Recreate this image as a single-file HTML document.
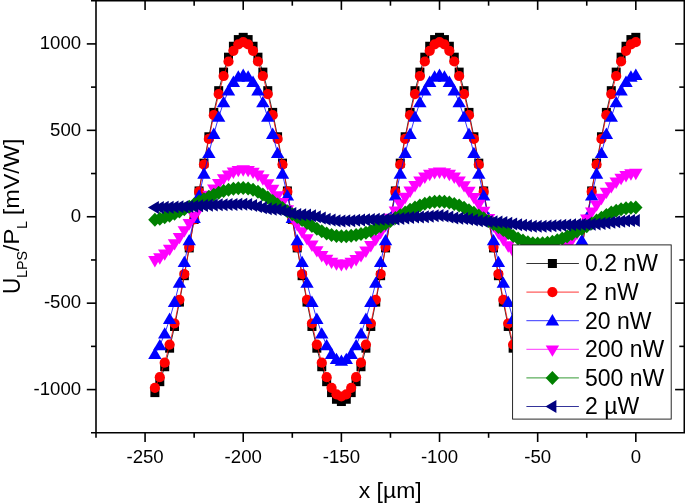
<!DOCTYPE html>
<html><head><meta charset="utf-8"><title>chart</title>
<style>html,body{margin:0;padding:0;background:#fff;}svg{display:block;will-change:transform;}text{font-family:"Liberation Sans",sans-serif;fill:#000;}</style></head><body>
<svg width="685" height="503" viewBox="0 0 685 503">
<rect width="685" height="503" fill="#fff"/>
<g>
<polyline fill="none" stroke="#000000" stroke-width="0.8" points="154.89,392.60 159.80,381.67 164.70,366.74 169.61,348.18 174.52,326.46 179.43,302.09 184.33,275.70 189.24,247.91 194.15,219.43 199.06,190.94 203.96,163.16 208.87,136.76 213.78,112.40 218.69,90.67 223.59,72.12 228.50,57.19 233.41,46.25 238.32,39.58 243.22,37.34 248.13,39.58 253.04,46.25 257.95,57.19 262.86,72.12 267.76,90.67 272.67,112.40 277.58,136.76 282.49,163.16 287.39,190.94 292.30,219.43 297.21,247.91 302.12,275.70 307.02,302.09 311.93,326.46 316.84,348.18 321.75,366.74 326.65,381.67 331.56,392.60 336.47,399.27 341.38,401.52 346.28,399.27 351.19,392.60 356.10,381.67 361.00,366.74 365.91,348.18 370.82,326.46 375.73,302.09 380.63,275.70 385.54,247.91 390.45,219.43 395.36,190.94 400.27,163.16 405.17,136.76 410.08,112.40 414.99,90.67 419.90,72.12 424.80,57.19 429.71,46.25 434.62,39.58 439.53,37.34 444.43,39.58 449.34,46.25 454.25,57.19 459.16,72.12 464.06,90.67 468.97,112.40 473.88,136.76 478.79,163.16 483.69,190.94 488.60,219.43 493.51,247.91 498.42,275.70 503.32,302.09 508.23,326.46 513.14,348.18 518.05,366.74 522.95,381.67 527.86,392.60 532.77,399.27 537.67,401.52 542.58,399.27 547.49,392.60 552.40,381.67 557.30,366.74 562.21,348.18 567.12,326.46 572.03,302.09 576.93,275.70 581.84,247.91 586.75,219.43 591.66,190.94 596.56,163.16 601.47,136.76 606.38,112.40 611.29,90.67 616.19,72.12 621.10,57.19 626.01,46.25 630.92,39.58 635.82,37.34"/>
<rect x="150.39" y="388.10" width="9" height="9" fill="#000000"/>
<rect x="155.30" y="377.17" width="9" height="9" fill="#000000"/>
<rect x="160.20" y="362.24" width="9" height="9" fill="#000000"/>
<rect x="165.11" y="343.68" width="9" height="9" fill="#000000"/>
<rect x="170.02" y="321.96" width="9" height="9" fill="#000000"/>
<rect x="174.93" y="297.59" width="9" height="9" fill="#000000"/>
<rect x="179.83" y="271.20" width="9" height="9" fill="#000000"/>
<rect x="184.74" y="243.41" width="9" height="9" fill="#000000"/>
<rect x="189.65" y="214.93" width="9" height="9" fill="#000000"/>
<rect x="194.56" y="186.44" width="9" height="9" fill="#000000"/>
<rect x="199.46" y="158.66" width="9" height="9" fill="#000000"/>
<rect x="204.37" y="132.26" width="9" height="9" fill="#000000"/>
<rect x="209.28" y="107.90" width="9" height="9" fill="#000000"/>
<rect x="214.19" y="86.17" width="9" height="9" fill="#000000"/>
<rect x="219.09" y="67.62" width="9" height="9" fill="#000000"/>
<rect x="224.00" y="52.69" width="9" height="9" fill="#000000"/>
<rect x="228.91" y="41.75" width="9" height="9" fill="#000000"/>
<rect x="233.82" y="35.08" width="9" height="9" fill="#000000"/>
<rect x="238.72" y="32.84" width="9" height="9" fill="#000000"/>
<rect x="243.63" y="35.08" width="9" height="9" fill="#000000"/>
<rect x="248.54" y="41.75" width="9" height="9" fill="#000000"/>
<rect x="253.45" y="52.69" width="9" height="9" fill="#000000"/>
<rect x="258.36" y="67.62" width="9" height="9" fill="#000000"/>
<rect x="263.26" y="86.17" width="9" height="9" fill="#000000"/>
<rect x="268.17" y="107.90" width="9" height="9" fill="#000000"/>
<rect x="273.08" y="132.26" width="9" height="9" fill="#000000"/>
<rect x="277.99" y="158.66" width="9" height="9" fill="#000000"/>
<rect x="282.89" y="186.44" width="9" height="9" fill="#000000"/>
<rect x="287.80" y="214.93" width="9" height="9" fill="#000000"/>
<rect x="292.71" y="243.41" width="9" height="9" fill="#000000"/>
<rect x="297.62" y="271.20" width="9" height="9" fill="#000000"/>
<rect x="302.52" y="297.59" width="9" height="9" fill="#000000"/>
<rect x="307.43" y="321.96" width="9" height="9" fill="#000000"/>
<rect x="312.34" y="343.68" width="9" height="9" fill="#000000"/>
<rect x="317.25" y="362.24" width="9" height="9" fill="#000000"/>
<rect x="322.15" y="377.17" width="9" height="9" fill="#000000"/>
<rect x="327.06" y="388.10" width="9" height="9" fill="#000000"/>
<rect x="331.97" y="394.77" width="9" height="9" fill="#000000"/>
<rect x="336.88" y="397.02" width="9" height="9" fill="#000000"/>
<rect x="341.78" y="394.77" width="9" height="9" fill="#000000"/>
<rect x="346.69" y="388.10" width="9" height="9" fill="#000000"/>
<rect x="351.60" y="377.17" width="9" height="9" fill="#000000"/>
<rect x="356.50" y="362.24" width="9" height="9" fill="#000000"/>
<rect x="361.41" y="343.68" width="9" height="9" fill="#000000"/>
<rect x="366.32" y="321.96" width="9" height="9" fill="#000000"/>
<rect x="371.23" y="297.59" width="9" height="9" fill="#000000"/>
<rect x="376.13" y="271.20" width="9" height="9" fill="#000000"/>
<rect x="381.04" y="243.41" width="9" height="9" fill="#000000"/>
<rect x="385.95" y="214.93" width="9" height="9" fill="#000000"/>
<rect x="390.86" y="186.44" width="9" height="9" fill="#000000"/>
<rect x="395.77" y="158.66" width="9" height="9" fill="#000000"/>
<rect x="400.67" y="132.26" width="9" height="9" fill="#000000"/>
<rect x="405.58" y="107.90" width="9" height="9" fill="#000000"/>
<rect x="410.49" y="86.17" width="9" height="9" fill="#000000"/>
<rect x="415.40" y="67.62" width="9" height="9" fill="#000000"/>
<rect x="420.30" y="52.69" width="9" height="9" fill="#000000"/>
<rect x="425.21" y="41.75" width="9" height="9" fill="#000000"/>
<rect x="430.12" y="35.08" width="9" height="9" fill="#000000"/>
<rect x="435.03" y="32.84" width="9" height="9" fill="#000000"/>
<rect x="439.93" y="35.08" width="9" height="9" fill="#000000"/>
<rect x="444.84" y="41.75" width="9" height="9" fill="#000000"/>
<rect x="449.75" y="52.69" width="9" height="9" fill="#000000"/>
<rect x="454.66" y="67.62" width="9" height="9" fill="#000000"/>
<rect x="459.56" y="86.17" width="9" height="9" fill="#000000"/>
<rect x="464.47" y="107.90" width="9" height="9" fill="#000000"/>
<rect x="469.38" y="132.26" width="9" height="9" fill="#000000"/>
<rect x="474.29" y="158.66" width="9" height="9" fill="#000000"/>
<rect x="479.19" y="186.44" width="9" height="9" fill="#000000"/>
<rect x="484.10" y="214.93" width="9" height="9" fill="#000000"/>
<rect x="489.01" y="243.41" width="9" height="9" fill="#000000"/>
<rect x="493.92" y="271.20" width="9" height="9" fill="#000000"/>
<rect x="498.82" y="297.59" width="9" height="9" fill="#000000"/>
<rect x="503.73" y="321.96" width="9" height="9" fill="#000000"/>
<rect x="508.64" y="343.68" width="9" height="9" fill="#000000"/>
<rect x="513.55" y="362.24" width="9" height="9" fill="#000000"/>
<rect x="518.45" y="377.17" width="9" height="9" fill="#000000"/>
<rect x="523.36" y="388.10" width="9" height="9" fill="#000000"/>
<rect x="528.27" y="394.77" width="9" height="9" fill="#000000"/>
<rect x="533.17" y="397.02" width="9" height="9" fill="#000000"/>
<rect x="538.08" y="394.77" width="9" height="9" fill="#000000"/>
<rect x="542.99" y="388.10" width="9" height="9" fill="#000000"/>
<rect x="547.90" y="377.17" width="9" height="9" fill="#000000"/>
<rect x="552.80" y="362.24" width="9" height="9" fill="#000000"/>
<rect x="557.71" y="343.68" width="9" height="9" fill="#000000"/>
<rect x="562.62" y="321.96" width="9" height="9" fill="#000000"/>
<rect x="567.53" y="297.59" width="9" height="9" fill="#000000"/>
<rect x="572.43" y="271.20" width="9" height="9" fill="#000000"/>
<rect x="577.34" y="243.41" width="9" height="9" fill="#000000"/>
<rect x="582.25" y="214.93" width="9" height="9" fill="#000000"/>
<rect x="587.16" y="186.44" width="9" height="9" fill="#000000"/>
<rect x="592.06" y="158.66" width="9" height="9" fill="#000000"/>
<rect x="596.97" y="132.26" width="9" height="9" fill="#000000"/>
<rect x="601.88" y="107.90" width="9" height="9" fill="#000000"/>
<rect x="606.79" y="86.17" width="9" height="9" fill="#000000"/>
<rect x="611.69" y="67.62" width="9" height="9" fill="#000000"/>
<rect x="616.60" y="52.69" width="9" height="9" fill="#000000"/>
<rect x="621.51" y="41.75" width="9" height="9" fill="#000000"/>
<rect x="626.42" y="35.08" width="9" height="9" fill="#000000"/>
<rect x="631.32" y="32.84" width="9" height="9" fill="#000000"/>
</g>
<g>
<polyline fill="none" stroke="#ff0000" stroke-width="0.8" points="154.89,387.83 159.80,377.19 164.70,362.67 169.61,344.61 174.52,323.48 179.43,299.77 184.33,274.09 189.24,247.06 194.15,219.34 199.06,191.63 203.96,164.60 208.87,138.91 213.78,115.21 218.69,94.07 223.59,76.02 228.50,61.49 233.41,50.85 238.32,44.36 243.22,42.18 248.13,44.36 253.04,50.85 257.95,61.49 262.86,76.02 267.76,94.07 272.67,115.21 277.58,138.91 282.49,164.60 287.39,191.63 292.30,219.34 297.21,247.06 302.12,274.09 307.02,299.77 311.93,323.48 316.84,344.61 321.75,362.67 326.65,377.19 331.56,387.83 336.47,394.32 341.38,396.50 346.28,394.32 351.19,387.83 356.10,377.19 361.00,362.67 365.91,344.61 370.82,323.48 375.73,299.77 380.63,274.09 385.54,247.06 390.45,219.34 395.36,191.63 400.27,164.60 405.17,138.91 410.08,115.21 414.99,94.07 419.90,76.02 424.80,61.49 429.71,50.85 434.62,44.36 439.53,42.18 444.43,44.36 449.34,50.85 454.25,61.49 459.16,76.02 464.06,94.07 468.97,115.21 473.88,138.91 478.79,164.60 483.69,191.63 488.60,219.34 493.51,247.06 498.42,274.09 503.32,299.77 508.23,323.48 513.14,344.61 518.05,362.67 522.95,377.19 527.86,387.83 532.77,394.32 537.67,396.50 542.58,394.32 547.49,387.83 552.40,377.19 557.30,362.67 562.21,344.61 567.12,323.48 572.03,299.77 576.93,274.09 581.84,247.06 586.75,219.34 591.66,191.63 596.56,164.60 601.47,138.91 606.38,115.21 611.29,94.07 616.19,76.02 621.10,61.49 626.01,50.85 630.92,44.36 635.82,42.18"/>
<circle cx="154.89" cy="387.83" r="5.1" fill="#ff0000"/>
<circle cx="159.80" cy="377.19" r="5.1" fill="#ff0000"/>
<circle cx="164.70" cy="362.67" r="5.1" fill="#ff0000"/>
<circle cx="169.61" cy="344.61" r="5.1" fill="#ff0000"/>
<circle cx="174.52" cy="323.48" r="5.1" fill="#ff0000"/>
<circle cx="179.43" cy="299.77" r="5.1" fill="#ff0000"/>
<circle cx="184.33" cy="274.09" r="5.1" fill="#ff0000"/>
<circle cx="189.24" cy="247.06" r="5.1" fill="#ff0000"/>
<circle cx="194.15" cy="219.34" r="5.1" fill="#ff0000"/>
<circle cx="199.06" cy="191.63" r="5.1" fill="#ff0000"/>
<circle cx="203.96" cy="164.60" r="5.1" fill="#ff0000"/>
<circle cx="208.87" cy="138.91" r="5.1" fill="#ff0000"/>
<circle cx="213.78" cy="115.21" r="5.1" fill="#ff0000"/>
<circle cx="218.69" cy="94.07" r="5.1" fill="#ff0000"/>
<circle cx="223.59" cy="76.02" r="5.1" fill="#ff0000"/>
<circle cx="228.50" cy="61.49" r="5.1" fill="#ff0000"/>
<circle cx="233.41" cy="50.85" r="5.1" fill="#ff0000"/>
<circle cx="238.32" cy="44.36" r="5.1" fill="#ff0000"/>
<circle cx="243.22" cy="42.18" r="5.1" fill="#ff0000"/>
<circle cx="248.13" cy="44.36" r="5.1" fill="#ff0000"/>
<circle cx="253.04" cy="50.85" r="5.1" fill="#ff0000"/>
<circle cx="257.95" cy="61.49" r="5.1" fill="#ff0000"/>
<circle cx="262.86" cy="76.02" r="5.1" fill="#ff0000"/>
<circle cx="267.76" cy="94.07" r="5.1" fill="#ff0000"/>
<circle cx="272.67" cy="115.21" r="5.1" fill="#ff0000"/>
<circle cx="277.58" cy="138.91" r="5.1" fill="#ff0000"/>
<circle cx="282.49" cy="164.60" r="5.1" fill="#ff0000"/>
<circle cx="287.39" cy="191.63" r="5.1" fill="#ff0000"/>
<circle cx="292.30" cy="219.34" r="5.1" fill="#ff0000"/>
<circle cx="297.21" cy="247.06" r="5.1" fill="#ff0000"/>
<circle cx="302.12" cy="274.09" r="5.1" fill="#ff0000"/>
<circle cx="307.02" cy="299.77" r="5.1" fill="#ff0000"/>
<circle cx="311.93" cy="323.48" r="5.1" fill="#ff0000"/>
<circle cx="316.84" cy="344.61" r="5.1" fill="#ff0000"/>
<circle cx="321.75" cy="362.67" r="5.1" fill="#ff0000"/>
<circle cx="326.65" cy="377.19" r="5.1" fill="#ff0000"/>
<circle cx="331.56" cy="387.83" r="5.1" fill="#ff0000"/>
<circle cx="336.47" cy="394.32" r="5.1" fill="#ff0000"/>
<circle cx="341.38" cy="396.50" r="5.1" fill="#ff0000"/>
<circle cx="346.28" cy="394.32" r="5.1" fill="#ff0000"/>
<circle cx="351.19" cy="387.83" r="5.1" fill="#ff0000"/>
<circle cx="356.10" cy="377.19" r="5.1" fill="#ff0000"/>
<circle cx="361.00" cy="362.67" r="5.1" fill="#ff0000"/>
<circle cx="365.91" cy="344.61" r="5.1" fill="#ff0000"/>
<circle cx="370.82" cy="323.48" r="5.1" fill="#ff0000"/>
<circle cx="375.73" cy="299.77" r="5.1" fill="#ff0000"/>
<circle cx="380.63" cy="274.09" r="5.1" fill="#ff0000"/>
<circle cx="385.54" cy="247.06" r="5.1" fill="#ff0000"/>
<circle cx="390.45" cy="219.34" r="5.1" fill="#ff0000"/>
<circle cx="395.36" cy="191.63" r="5.1" fill="#ff0000"/>
<circle cx="400.27" cy="164.60" r="5.1" fill="#ff0000"/>
<circle cx="405.17" cy="138.91" r="5.1" fill="#ff0000"/>
<circle cx="410.08" cy="115.21" r="5.1" fill="#ff0000"/>
<circle cx="414.99" cy="94.07" r="5.1" fill="#ff0000"/>
<circle cx="419.90" cy="76.02" r="5.1" fill="#ff0000"/>
<circle cx="424.80" cy="61.49" r="5.1" fill="#ff0000"/>
<circle cx="429.71" cy="50.85" r="5.1" fill="#ff0000"/>
<circle cx="434.62" cy="44.36" r="5.1" fill="#ff0000"/>
<circle cx="439.53" cy="42.18" r="5.1" fill="#ff0000"/>
<circle cx="444.43" cy="44.36" r="5.1" fill="#ff0000"/>
<circle cx="449.34" cy="50.85" r="5.1" fill="#ff0000"/>
<circle cx="454.25" cy="61.49" r="5.1" fill="#ff0000"/>
<circle cx="459.16" cy="76.02" r="5.1" fill="#ff0000"/>
<circle cx="464.06" cy="94.07" r="5.1" fill="#ff0000"/>
<circle cx="468.97" cy="115.21" r="5.1" fill="#ff0000"/>
<circle cx="473.88" cy="138.91" r="5.1" fill="#ff0000"/>
<circle cx="478.79" cy="164.60" r="5.1" fill="#ff0000"/>
<circle cx="483.69" cy="191.63" r="5.1" fill="#ff0000"/>
<circle cx="488.60" cy="219.34" r="5.1" fill="#ff0000"/>
<circle cx="493.51" cy="247.06" r="5.1" fill="#ff0000"/>
<circle cx="498.42" cy="274.09" r="5.1" fill="#ff0000"/>
<circle cx="503.32" cy="299.77" r="5.1" fill="#ff0000"/>
<circle cx="508.23" cy="323.48" r="5.1" fill="#ff0000"/>
<circle cx="513.14" cy="344.61" r="5.1" fill="#ff0000"/>
<circle cx="518.05" cy="362.67" r="5.1" fill="#ff0000"/>
<circle cx="522.95" cy="377.19" r="5.1" fill="#ff0000"/>
<circle cx="527.86" cy="387.83" r="5.1" fill="#ff0000"/>
<circle cx="532.77" cy="394.32" r="5.1" fill="#ff0000"/>
<circle cx="537.67" cy="396.50" r="5.1" fill="#ff0000"/>
<circle cx="542.58" cy="394.32" r="5.1" fill="#ff0000"/>
<circle cx="547.49" cy="387.83" r="5.1" fill="#ff0000"/>
<circle cx="552.40" cy="377.19" r="5.1" fill="#ff0000"/>
<circle cx="557.30" cy="362.67" r="5.1" fill="#ff0000"/>
<circle cx="562.21" cy="344.61" r="5.1" fill="#ff0000"/>
<circle cx="567.12" cy="323.48" r="5.1" fill="#ff0000"/>
<circle cx="572.03" cy="299.77" r="5.1" fill="#ff0000"/>
<circle cx="576.93" cy="274.09" r="5.1" fill="#ff0000"/>
<circle cx="581.84" cy="247.06" r="5.1" fill="#ff0000"/>
<circle cx="586.75" cy="219.34" r="5.1" fill="#ff0000"/>
<circle cx="591.66" cy="191.63" r="5.1" fill="#ff0000"/>
<circle cx="596.56" cy="164.60" r="5.1" fill="#ff0000"/>
<circle cx="601.47" cy="138.91" r="5.1" fill="#ff0000"/>
<circle cx="606.38" cy="115.21" r="5.1" fill="#ff0000"/>
<circle cx="611.29" cy="94.07" r="5.1" fill="#ff0000"/>
<circle cx="616.19" cy="76.02" r="5.1" fill="#ff0000"/>
<circle cx="621.10" cy="61.49" r="5.1" fill="#ff0000"/>
<circle cx="626.01" cy="50.85" r="5.1" fill="#ff0000"/>
<circle cx="630.92" cy="44.36" r="5.1" fill="#ff0000"/>
<circle cx="635.82" cy="42.18" r="5.1" fill="#ff0000"/>
</g>
<g>
<polyline fill="none" stroke="#0000ff" stroke-width="0.8" points="154.89,354.08 159.80,345.49 164.70,333.77 169.61,319.21 174.52,302.15 179.43,283.03 184.33,262.30 189.24,240.49 194.15,218.13 199.06,195.77 203.96,173.96 208.87,153.24 213.78,134.12 218.69,117.06 223.59,102.49 228.50,90.77 233.41,82.19 238.32,76.95 243.22,75.19 248.13,76.95 253.04,82.19 257.95,90.77 262.86,102.49 267.76,117.06 272.67,134.12 277.58,153.24 282.49,173.96 287.39,195.77 292.30,218.13 297.21,240.49 302.12,262.30 307.02,283.03 311.93,302.15 316.84,319.21 321.75,333.77 326.65,345.49 331.56,354.08 336.47,359.31 341.38,361.07 346.28,359.31 351.19,354.08 356.10,345.49 361.00,333.77 365.91,319.21 370.82,302.15 375.73,283.03 380.63,262.30 385.54,240.49 390.45,218.13 395.36,195.77 400.27,173.96 405.17,153.24 410.08,134.12 414.99,117.06 419.90,102.49 424.80,90.77 429.71,82.19 434.62,76.95 439.53,75.19 444.43,76.95 449.34,82.19 454.25,90.77 459.16,102.49 464.06,117.06 468.97,134.12 473.88,153.24 478.79,173.96 483.69,195.77 488.60,218.13 493.51,240.49 498.42,262.30 503.32,283.03 508.23,302.15 513.14,319.21 518.05,333.77 522.95,345.49 527.86,354.08 532.77,359.31 537.67,361.07 542.58,359.31 547.49,354.08 552.40,345.49 557.30,333.77 562.21,319.21 567.12,302.15 572.03,283.03 576.93,262.30 581.84,240.49 586.75,218.13 591.66,195.77 596.56,173.96 601.47,153.24 606.38,134.12 611.29,117.06 616.19,102.49 621.10,90.77 626.01,82.19 630.92,76.95 635.82,75.19"/>
<path d="M154.89 347.48L161.59 358.88L148.19 358.88Z" fill="#0000ff"/>
<path d="M159.80 338.89L166.50 350.29L153.10 350.29Z" fill="#0000ff"/>
<path d="M164.70 327.17L171.40 338.57L158.00 338.57Z" fill="#0000ff"/>
<path d="M169.61 312.61L176.31 324.01L162.91 324.01Z" fill="#0000ff"/>
<path d="M174.52 295.55L181.22 306.95L167.82 306.95Z" fill="#0000ff"/>
<path d="M179.43 276.43L186.13 287.83L172.73 287.83Z" fill="#0000ff"/>
<path d="M184.33 255.70L191.03 267.10L177.63 267.10Z" fill="#0000ff"/>
<path d="M189.24 233.89L195.94 245.29L182.54 245.29Z" fill="#0000ff"/>
<path d="M194.15 211.53L200.85 222.93L187.45 222.93Z" fill="#0000ff"/>
<path d="M199.06 189.17L205.76 200.57L192.36 200.57Z" fill="#0000ff"/>
<path d="M203.96 167.36L210.66 178.76L197.26 178.76Z" fill="#0000ff"/>
<path d="M208.87 146.64L215.57 158.04L202.17 158.04Z" fill="#0000ff"/>
<path d="M213.78 127.52L220.48 138.92L207.08 138.92Z" fill="#0000ff"/>
<path d="M218.69 110.46L225.39 121.86L211.99 121.86Z" fill="#0000ff"/>
<path d="M223.59 95.89L230.29 107.29L216.90 107.29Z" fill="#0000ff"/>
<path d="M228.50 84.17L235.20 95.57L221.80 95.57Z" fill="#0000ff"/>
<path d="M233.41 75.59L240.11 86.99L226.71 86.99Z" fill="#0000ff"/>
<path d="M238.32 70.35L245.02 81.75L231.62 81.75Z" fill="#0000ff"/>
<path d="M243.22 68.59L249.92 79.99L236.53 79.99Z" fill="#0000ff"/>
<path d="M248.13 70.35L254.83 81.75L241.43 81.75Z" fill="#0000ff"/>
<path d="M253.04 75.59L259.74 86.99L246.34 86.99Z" fill="#0000ff"/>
<path d="M257.95 84.17L264.65 95.57L251.25 95.57Z" fill="#0000ff"/>
<path d="M262.86 95.89L269.56 107.29L256.16 107.29Z" fill="#0000ff"/>
<path d="M267.76 110.46L274.46 121.86L261.06 121.86Z" fill="#0000ff"/>
<path d="M272.67 127.52L279.37 138.92L265.97 138.92Z" fill="#0000ff"/>
<path d="M277.58 146.64L284.28 158.04L270.88 158.04Z" fill="#0000ff"/>
<path d="M282.49 167.36L289.19 178.76L275.79 178.76Z" fill="#0000ff"/>
<path d="M287.39 189.17L294.09 200.57L280.69 200.57Z" fill="#0000ff"/>
<path d="M292.30 211.53L299.00 222.93L285.60 222.93Z" fill="#0000ff"/>
<path d="M297.21 233.89L303.91 245.29L290.51 245.29Z" fill="#0000ff"/>
<path d="M302.12 255.70L308.81 267.10L295.42 267.10Z" fill="#0000ff"/>
<path d="M307.02 276.43L313.72 287.83L300.32 287.83Z" fill="#0000ff"/>
<path d="M311.93 295.55L318.63 306.95L305.23 306.95Z" fill="#0000ff"/>
<path d="M316.84 312.61L323.54 324.01L310.14 324.01Z" fill="#0000ff"/>
<path d="M321.75 327.17L328.44 338.57L315.05 338.57Z" fill="#0000ff"/>
<path d="M326.65 338.89L333.35 350.29L319.95 350.29Z" fill="#0000ff"/>
<path d="M331.56 347.48L338.26 358.88L324.86 358.88Z" fill="#0000ff"/>
<path d="M336.47 352.71L343.17 364.11L329.77 364.11Z" fill="#0000ff"/>
<path d="M341.38 354.47L348.07 365.87L334.68 365.87Z" fill="#0000ff"/>
<path d="M346.28 352.71L352.98 364.11L339.58 364.11Z" fill="#0000ff"/>
<path d="M351.19 347.48L357.89 358.88L344.49 358.88Z" fill="#0000ff"/>
<path d="M356.10 338.89L362.80 350.29L349.40 350.29Z" fill="#0000ff"/>
<path d="M361.00 327.17L367.70 338.57L354.31 338.57Z" fill="#0000ff"/>
<path d="M365.91 312.61L372.61 324.01L359.21 324.01Z" fill="#0000ff"/>
<path d="M370.82 295.55L377.52 306.95L364.12 306.95Z" fill="#0000ff"/>
<path d="M375.73 276.43L382.43 287.83L369.03 287.83Z" fill="#0000ff"/>
<path d="M380.63 255.70L387.33 267.10L373.94 267.10Z" fill="#0000ff"/>
<path d="M385.54 233.89L392.24 245.29L378.84 245.29Z" fill="#0000ff"/>
<path d="M390.45 211.53L397.15 222.93L383.75 222.93Z" fill="#0000ff"/>
<path d="M395.36 189.17L402.06 200.57L388.66 200.57Z" fill="#0000ff"/>
<path d="M400.27 167.36L406.97 178.76L393.57 178.76Z" fill="#0000ff"/>
<path d="M405.17 146.64L411.87 158.04L398.47 158.04Z" fill="#0000ff"/>
<path d="M410.08 127.52L416.78 138.92L403.38 138.92Z" fill="#0000ff"/>
<path d="M414.99 110.46L421.69 121.86L408.29 121.86Z" fill="#0000ff"/>
<path d="M419.90 95.89L426.60 107.29L413.20 107.29Z" fill="#0000ff"/>
<path d="M424.80 84.17L431.50 95.57L418.10 95.57Z" fill="#0000ff"/>
<path d="M429.71 75.59L436.41 86.99L423.01 86.99Z" fill="#0000ff"/>
<path d="M434.62 70.35L441.32 81.75L427.92 81.75Z" fill="#0000ff"/>
<path d="M439.53 68.59L446.23 79.99L432.83 79.99Z" fill="#0000ff"/>
<path d="M444.43 70.35L451.13 81.75L437.73 81.75Z" fill="#0000ff"/>
<path d="M449.34 75.59L456.04 86.99L442.64 86.99Z" fill="#0000ff"/>
<path d="M454.25 84.17L460.95 95.57L447.55 95.57Z" fill="#0000ff"/>
<path d="M459.16 95.89L465.86 107.29L452.46 107.29Z" fill="#0000ff"/>
<path d="M464.06 110.46L470.76 121.86L457.36 121.86Z" fill="#0000ff"/>
<path d="M468.97 127.52L475.67 138.92L462.27 138.92Z" fill="#0000ff"/>
<path d="M473.88 146.64L480.58 158.04L467.18 158.04Z" fill="#0000ff"/>
<path d="M478.79 167.36L485.49 178.76L472.09 178.76Z" fill="#0000ff"/>
<path d="M483.69 189.17L490.39 200.57L476.99 200.57Z" fill="#0000ff"/>
<path d="M488.60 211.53L495.30 222.93L481.90 222.93Z" fill="#0000ff"/>
<path d="M493.51 233.89L500.21 245.29L486.81 245.29Z" fill="#0000ff"/>
<path d="M498.42 255.70L505.12 267.10L491.72 267.10Z" fill="#0000ff"/>
<path d="M503.32 276.43L510.02 287.83L496.62 287.83Z" fill="#0000ff"/>
<path d="M508.23 295.55L514.93 306.95L501.53 306.95Z" fill="#0000ff"/>
<path d="M513.14 312.61L519.84 324.01L506.44 324.01Z" fill="#0000ff"/>
<path d="M518.05 327.17L524.75 338.57L511.35 338.57Z" fill="#0000ff"/>
<path d="M522.95 338.89L529.65 350.29L516.25 350.29Z" fill="#0000ff"/>
<path d="M527.86 347.48L534.56 358.88L521.16 358.88Z" fill="#0000ff"/>
<path d="M532.77 352.71L539.47 364.11L526.07 364.11Z" fill="#0000ff"/>
<path d="M537.67 354.47L544.38 365.87L530.97 365.87Z" fill="#0000ff"/>
<path d="M542.58 352.71L549.28 364.11L535.88 364.11Z" fill="#0000ff"/>
<path d="M547.49 347.48L554.19 358.88L540.79 358.88Z" fill="#0000ff"/>
<path d="M552.40 338.89L559.10 350.29L545.70 350.29Z" fill="#0000ff"/>
<path d="M557.30 327.17L564.00 338.57L550.60 338.57Z" fill="#0000ff"/>
<path d="M562.21 312.61L568.91 324.01L555.51 324.01Z" fill="#0000ff"/>
<path d="M567.12 295.55L573.82 306.95L560.42 306.95Z" fill="#0000ff"/>
<path d="M572.03 276.43L578.73 287.83L565.33 287.83Z" fill="#0000ff"/>
<path d="M576.93 255.70L583.63 267.10L570.23 267.10Z" fill="#0000ff"/>
<path d="M581.84 233.89L588.54 245.29L575.14 245.29Z" fill="#0000ff"/>
<path d="M586.75 211.53L593.45 222.93L580.05 222.93Z" fill="#0000ff"/>
<path d="M591.66 189.17L598.36 200.57L584.96 200.57Z" fill="#0000ff"/>
<path d="M596.56 167.36L603.26 178.76L589.86 178.76Z" fill="#0000ff"/>
<path d="M601.47 146.64L608.17 158.04L594.77 158.04Z" fill="#0000ff"/>
<path d="M606.38 127.52L613.08 138.92L599.68 138.92Z" fill="#0000ff"/>
<path d="M611.29 110.46L617.99 121.86L604.59 121.86Z" fill="#0000ff"/>
<path d="M616.19 95.89L622.89 107.29L609.49 107.29Z" fill="#0000ff"/>
<path d="M621.10 84.17L627.80 95.57L614.40 95.57Z" fill="#0000ff"/>
<path d="M626.01 75.59L632.71 86.99L619.31 86.99Z" fill="#0000ff"/>
<path d="M630.92 70.35L637.62 81.75L624.22 81.75Z" fill="#0000ff"/>
<path d="M635.82 68.59L642.52 79.99L629.12 79.99Z" fill="#0000ff"/>
</g>
<g>
<polyline fill="none" stroke="#ff00ff" stroke-width="0.8" points="154.89,259.94 159.80,257.16 164.70,253.35 169.61,248.62 174.52,243.07 179.43,236.85 184.33,230.11 189.24,223.02 194.15,215.74 199.06,208.47 203.96,201.37 208.87,194.62 213.78,188.40 218.69,182.85 223.59,178.11 228.50,174.29 233.41,171.50 238.32,169.79 243.22,169.22 248.13,169.80 253.04,171.54 257.95,174.38 262.86,178.26 267.76,183.09 272.67,188.74 277.58,195.08 282.49,201.94 287.39,209.17 292.30,216.58 297.21,223.99 302.12,231.21 307.02,238.08 311.93,244.41 316.84,250.06 321.75,254.89 326.65,258.77 331.56,261.62 336.47,263.35 341.38,263.94 346.28,263.37 351.19,261.67 356.10,258.90 361.00,255.11 365.91,250.39 370.82,244.88 375.73,238.69 380.63,231.99 385.54,224.93 390.45,217.70 395.36,210.47 400.27,203.41 405.17,196.71 410.08,190.52 414.99,185.01 419.90,180.30 424.80,176.51 429.71,173.73 434.62,172.04 439.53,171.47 444.43,172.04 449.34,173.74 454.25,176.52 459.16,180.33 464.06,185.06 468.97,190.60 473.88,196.80 478.79,203.53 483.69,210.61 488.60,217.87 493.51,225.13 498.42,232.21 503.32,238.94 508.23,245.15 513.14,250.69 518.05,255.42 522.95,259.22 527.86,262.01 532.77,263.71 537.67,264.28 542.58,263.72 547.49,262.04 552.40,259.29 557.30,255.53 562.21,250.87 567.12,245.40 572.03,239.27 576.93,232.63 581.84,225.64 586.75,218.48 591.66,211.31 596.56,204.32 601.47,197.68 606.38,191.56 611.29,186.09 616.19,181.42 621.10,177.67 626.01,174.92 630.92,173.24 635.82,172.68"/>
<path d="M154.89 267.44L161.59 256.04L148.19 256.04Z" fill="#ff00ff"/>
<path d="M159.80 264.66L166.50 253.26L153.10 253.26Z" fill="#ff00ff"/>
<path d="M164.70 260.85L171.40 249.45L158.00 249.45Z" fill="#ff00ff"/>
<path d="M169.61 256.12L176.31 244.72L162.91 244.72Z" fill="#ff00ff"/>
<path d="M174.52 250.57L181.22 239.17L167.82 239.17Z" fill="#ff00ff"/>
<path d="M179.43 244.35L186.13 232.95L172.73 232.95Z" fill="#ff00ff"/>
<path d="M184.33 237.61L191.03 226.21L177.63 226.21Z" fill="#ff00ff"/>
<path d="M189.24 230.52L195.94 219.12L182.54 219.12Z" fill="#ff00ff"/>
<path d="M194.15 223.24L200.85 211.84L187.45 211.84Z" fill="#ff00ff"/>
<path d="M199.06 215.97L205.76 204.57L192.36 204.57Z" fill="#ff00ff"/>
<path d="M203.96 208.87L210.66 197.47L197.26 197.47Z" fill="#ff00ff"/>
<path d="M208.87 202.12L215.57 190.72L202.17 190.72Z" fill="#ff00ff"/>
<path d="M213.78 195.90L220.48 184.50L207.08 184.50Z" fill="#ff00ff"/>
<path d="M218.69 190.35L225.39 178.95L211.99 178.95Z" fill="#ff00ff"/>
<path d="M223.59 185.61L230.29 174.21L216.90 174.21Z" fill="#ff00ff"/>
<path d="M228.50 181.79L235.20 170.39L221.80 170.39Z" fill="#ff00ff"/>
<path d="M233.41 179.00L240.11 167.60L226.71 167.60Z" fill="#ff00ff"/>
<path d="M238.32 177.29L245.02 165.89L231.62 165.89Z" fill="#ff00ff"/>
<path d="M243.22 176.72L249.92 165.32L236.53 165.32Z" fill="#ff00ff"/>
<path d="M248.13 177.30L254.83 165.90L241.43 165.90Z" fill="#ff00ff"/>
<path d="M253.04 179.04L259.74 167.64L246.34 167.64Z" fill="#ff00ff"/>
<path d="M257.95 181.88L264.65 170.48L251.25 170.48Z" fill="#ff00ff"/>
<path d="M262.86 185.76L269.56 174.36L256.16 174.36Z" fill="#ff00ff"/>
<path d="M267.76 190.59L274.46 179.19L261.06 179.19Z" fill="#ff00ff"/>
<path d="M272.67 196.24L279.37 184.84L265.97 184.84Z" fill="#ff00ff"/>
<path d="M277.58 202.58L284.28 191.18L270.88 191.18Z" fill="#ff00ff"/>
<path d="M282.49 209.44L289.19 198.04L275.79 198.04Z" fill="#ff00ff"/>
<path d="M287.39 216.67L294.09 205.27L280.69 205.27Z" fill="#ff00ff"/>
<path d="M292.30 224.08L299.00 212.68L285.60 212.68Z" fill="#ff00ff"/>
<path d="M297.21 231.49L303.91 220.09L290.51 220.09Z" fill="#ff00ff"/>
<path d="M302.12 238.71L308.81 227.31L295.42 227.31Z" fill="#ff00ff"/>
<path d="M307.02 245.58L313.72 234.18L300.32 234.18Z" fill="#ff00ff"/>
<path d="M311.93 251.91L318.63 240.51L305.23 240.51Z" fill="#ff00ff"/>
<path d="M316.84 257.56L323.54 246.16L310.14 246.16Z" fill="#ff00ff"/>
<path d="M321.75 262.39L328.44 250.99L315.05 250.99Z" fill="#ff00ff"/>
<path d="M326.65 266.27L333.35 254.87L319.95 254.87Z" fill="#ff00ff"/>
<path d="M331.56 269.12L338.26 257.72L324.86 257.72Z" fill="#ff00ff"/>
<path d="M336.47 270.85L343.17 259.45L329.77 259.45Z" fill="#ff00ff"/>
<path d="M341.38 271.44L348.07 260.04L334.68 260.04Z" fill="#ff00ff"/>
<path d="M346.28 270.87L352.98 259.47L339.58 259.47Z" fill="#ff00ff"/>
<path d="M351.19 269.17L357.89 257.77L344.49 257.77Z" fill="#ff00ff"/>
<path d="M356.10 266.40L362.80 255.00L349.40 255.00Z" fill="#ff00ff"/>
<path d="M361.00 262.61L367.70 251.21L354.31 251.21Z" fill="#ff00ff"/>
<path d="M365.91 257.89L372.61 246.49L359.21 246.49Z" fill="#ff00ff"/>
<path d="M370.82 252.38L377.52 240.98L364.12 240.98Z" fill="#ff00ff"/>
<path d="M375.73 246.19L382.43 234.79L369.03 234.79Z" fill="#ff00ff"/>
<path d="M380.63 239.49L387.33 228.09L373.94 228.09Z" fill="#ff00ff"/>
<path d="M385.54 232.43L392.24 221.03L378.84 221.03Z" fill="#ff00ff"/>
<path d="M390.45 225.20L397.15 213.80L383.75 213.80Z" fill="#ff00ff"/>
<path d="M395.36 217.97L402.06 206.57L388.66 206.57Z" fill="#ff00ff"/>
<path d="M400.27 210.91L406.97 199.51L393.57 199.51Z" fill="#ff00ff"/>
<path d="M405.17 204.21L411.87 192.81L398.47 192.81Z" fill="#ff00ff"/>
<path d="M410.08 198.02L416.78 186.62L403.38 186.62Z" fill="#ff00ff"/>
<path d="M414.99 192.51L421.69 181.11L408.29 181.11Z" fill="#ff00ff"/>
<path d="M419.90 187.80L426.60 176.40L413.20 176.40Z" fill="#ff00ff"/>
<path d="M424.80 184.01L431.50 172.61L418.10 172.61Z" fill="#ff00ff"/>
<path d="M429.71 181.23L436.41 169.83L423.01 169.83Z" fill="#ff00ff"/>
<path d="M434.62 179.54L441.32 168.14L427.92 168.14Z" fill="#ff00ff"/>
<path d="M439.53 178.97L446.23 167.57L432.83 167.57Z" fill="#ff00ff"/>
<path d="M444.43 179.54L451.13 168.14L437.73 168.14Z" fill="#ff00ff"/>
<path d="M449.34 181.24L456.04 169.84L442.64 169.84Z" fill="#ff00ff"/>
<path d="M454.25 184.02L460.95 172.62L447.55 172.62Z" fill="#ff00ff"/>
<path d="M459.16 187.83L465.86 176.43L452.46 176.43Z" fill="#ff00ff"/>
<path d="M464.06 192.56L470.76 181.16L457.36 181.16Z" fill="#ff00ff"/>
<path d="M468.97 198.10L475.67 186.70L462.27 186.70Z" fill="#ff00ff"/>
<path d="M473.88 204.30L480.58 192.90L467.18 192.90Z" fill="#ff00ff"/>
<path d="M478.79 211.03L485.49 199.63L472.09 199.63Z" fill="#ff00ff"/>
<path d="M483.69 218.11L490.39 206.71L476.99 206.71Z" fill="#ff00ff"/>
<path d="M488.60 225.37L495.30 213.97L481.90 213.97Z" fill="#ff00ff"/>
<path d="M493.51 232.63L500.21 221.23L486.81 221.23Z" fill="#ff00ff"/>
<path d="M498.42 239.71L505.12 228.31L491.72 228.31Z" fill="#ff00ff"/>
<path d="M503.32 246.44L510.02 235.04L496.62 235.04Z" fill="#ff00ff"/>
<path d="M508.23 252.65L514.93 241.25L501.53 241.25Z" fill="#ff00ff"/>
<path d="M513.14 258.19L519.84 246.79L506.44 246.79Z" fill="#ff00ff"/>
<path d="M518.05 262.92L524.75 251.52L511.35 251.52Z" fill="#ff00ff"/>
<path d="M522.95 266.72L529.65 255.32L516.25 255.32Z" fill="#ff00ff"/>
<path d="M527.86 269.51L534.56 258.11L521.16 258.11Z" fill="#ff00ff"/>
<path d="M532.77 271.21L539.47 259.81L526.07 259.81Z" fill="#ff00ff"/>
<path d="M537.67 271.78L544.38 260.38L530.97 260.38Z" fill="#ff00ff"/>
<path d="M542.58 271.22L549.28 259.82L535.88 259.82Z" fill="#ff00ff"/>
<path d="M547.49 269.54L554.19 258.14L540.79 258.14Z" fill="#ff00ff"/>
<path d="M552.40 266.79L559.10 255.39L545.70 255.39Z" fill="#ff00ff"/>
<path d="M557.30 263.03L564.00 251.63L550.60 251.63Z" fill="#ff00ff"/>
<path d="M562.21 258.37L568.91 246.97L555.51 246.97Z" fill="#ff00ff"/>
<path d="M567.12 252.90L573.82 241.50L560.42 241.50Z" fill="#ff00ff"/>
<path d="M572.03 246.77L578.73 235.37L565.33 235.37Z" fill="#ff00ff"/>
<path d="M576.93 240.13L583.63 228.73L570.23 228.73Z" fill="#ff00ff"/>
<path d="M581.84 233.14L588.54 221.74L575.14 221.74Z" fill="#ff00ff"/>
<path d="M586.75 225.98L593.45 214.58L580.05 214.58Z" fill="#ff00ff"/>
<path d="M591.66 218.81L598.36 207.41L584.96 207.41Z" fill="#ff00ff"/>
<path d="M596.56 211.82L603.26 200.42L589.86 200.42Z" fill="#ff00ff"/>
<path d="M601.47 205.18L608.17 193.78L594.77 193.78Z" fill="#ff00ff"/>
<path d="M606.38 199.06L613.08 187.66L599.68 187.66Z" fill="#ff00ff"/>
<path d="M611.29 193.59L617.99 182.19L604.59 182.19Z" fill="#ff00ff"/>
<path d="M616.19 188.92L622.89 177.52L609.49 177.52Z" fill="#ff00ff"/>
<path d="M621.10 185.17L627.80 173.77L614.40 173.77Z" fill="#ff00ff"/>
<path d="M626.01 182.42L632.71 171.02L619.31 171.02Z" fill="#ff00ff"/>
<path d="M630.92 180.74L637.62 169.34L624.22 169.34Z" fill="#ff00ff"/>
<path d="M635.82 180.18L642.52 168.78L629.12 168.78Z" fill="#ff00ff"/>
</g>
<g>
<polyline fill="none" stroke="#008000" stroke-width="0.8" points="154.89,219.71 159.80,218.68 164.70,217.31 169.61,215.63 174.52,213.67 179.43,211.49 184.33,209.13 189.24,206.65 194.15,204.13 199.06,201.60 203.96,199.14 208.87,196.81 213.78,194.66 218.69,192.75 223.59,191.12 228.50,189.80 233.41,188.84 238.32,188.26 243.22,188.06 248.13,188.49 253.04,189.75 257.95,191.76 262.86,194.40 267.76,197.53 272.67,200.95 277.58,204.49 282.49,207.97 287.39,211.24 292.30,214.16 297.21,216.98 302.12,219.96 307.02,223.00 311.93,225.99 316.84,228.80 321.75,231.31 326.65,233.40 331.56,234.97 336.47,235.95 341.38,236.28 346.28,236.15 351.19,235.74 356.10,235.04 361.00,234.02 365.91,232.65 370.82,230.93 375.73,228.84 380.63,226.41 385.54,223.74 390.45,220.92 395.36,218.04 400.27,215.17 405.17,212.39 410.08,209.79 414.99,207.44 419.90,205.40 424.80,203.75 429.71,202.54 434.62,201.79 439.53,201.54 444.43,201.81 449.34,202.60 454.25,203.89 459.16,205.62 464.06,207.73 468.97,210.14 473.88,212.76 478.79,215.52 483.69,218.31 488.60,221.07 493.51,223.90 498.42,226.91 503.32,229.99 508.23,233.02 513.14,235.89 518.05,238.45 522.95,240.59 527.86,242.20 532.77,243.20 537.67,243.54 542.58,243.33 547.49,242.69 552.40,241.66 557.30,240.24 562.21,238.48 567.12,236.42 572.03,234.10 576.93,231.60 581.84,228.96 586.75,226.26 591.66,223.45 596.56,220.53 601.47,217.63 606.38,214.93 611.29,212.58 616.19,210.72 621.10,209.30 626.01,208.26 630.92,207.63 635.82,207.42"/>
<path d="M154.89 212.71L161.59 219.71L154.89 226.71L148.19 219.71Z" fill="#008000"/>
<path d="M159.80 211.68L166.50 218.68L159.80 225.68L153.10 218.68Z" fill="#008000"/>
<path d="M164.70 210.31L171.40 217.31L164.70 224.31L158.00 217.31Z" fill="#008000"/>
<path d="M169.61 208.63L176.31 215.63L169.61 222.63L162.91 215.63Z" fill="#008000"/>
<path d="M174.52 206.67L181.22 213.67L174.52 220.67L167.82 213.67Z" fill="#008000"/>
<path d="M179.43 204.49L186.13 211.49L179.43 218.49L172.73 211.49Z" fill="#008000"/>
<path d="M184.33 202.13L191.03 209.13L184.33 216.13L177.63 209.13Z" fill="#008000"/>
<path d="M189.24 199.65L195.94 206.65L189.24 213.65L182.54 206.65Z" fill="#008000"/>
<path d="M194.15 197.13L200.85 204.13L194.15 211.13L187.45 204.13Z" fill="#008000"/>
<path d="M199.06 194.60L205.76 201.60L199.06 208.60L192.36 201.60Z" fill="#008000"/>
<path d="M203.96 192.14L210.66 199.14L203.96 206.14L197.26 199.14Z" fill="#008000"/>
<path d="M208.87 189.81L215.57 196.81L208.87 203.81L202.17 196.81Z" fill="#008000"/>
<path d="M213.78 187.66L220.48 194.66L213.78 201.66L207.08 194.66Z" fill="#008000"/>
<path d="M218.69 185.75L225.39 192.75L218.69 199.75L211.99 192.75Z" fill="#008000"/>
<path d="M223.59 184.12L230.29 191.12L223.59 198.12L216.90 191.12Z" fill="#008000"/>
<path d="M228.50 182.80L235.20 189.80L228.50 196.80L221.80 189.80Z" fill="#008000"/>
<path d="M233.41 181.84L240.11 188.84L233.41 195.84L226.71 188.84Z" fill="#008000"/>
<path d="M238.32 181.26L245.02 188.26L238.32 195.26L231.62 188.26Z" fill="#008000"/>
<path d="M243.22 181.06L249.92 188.06L243.22 195.06L236.53 188.06Z" fill="#008000"/>
<path d="M248.13 181.49L254.83 188.49L248.13 195.49L241.43 188.49Z" fill="#008000"/>
<path d="M253.04 182.75L259.74 189.75L253.04 196.75L246.34 189.75Z" fill="#008000"/>
<path d="M257.95 184.76L264.65 191.76L257.95 198.76L251.25 191.76Z" fill="#008000"/>
<path d="M262.86 187.40L269.56 194.40L262.86 201.40L256.16 194.40Z" fill="#008000"/>
<path d="M267.76 190.53L274.46 197.53L267.76 204.53L261.06 197.53Z" fill="#008000"/>
<path d="M272.67 193.95L279.37 200.95L272.67 207.95L265.97 200.95Z" fill="#008000"/>
<path d="M277.58 197.49L284.28 204.49L277.58 211.49L270.88 204.49Z" fill="#008000"/>
<path d="M282.49 200.97L289.19 207.97L282.49 214.97L275.79 207.97Z" fill="#008000"/>
<path d="M287.39 204.24L294.09 211.24L287.39 218.24L280.69 211.24Z" fill="#008000"/>
<path d="M292.30 207.16L299.00 214.16L292.30 221.16L285.60 214.16Z" fill="#008000"/>
<path d="M297.21 209.98L303.91 216.98L297.21 223.98L290.51 216.98Z" fill="#008000"/>
<path d="M302.12 212.96L308.81 219.96L302.12 226.96L295.42 219.96Z" fill="#008000"/>
<path d="M307.02 216.00L313.72 223.00L307.02 230.00L300.32 223.00Z" fill="#008000"/>
<path d="M311.93 218.99L318.63 225.99L311.93 232.99L305.23 225.99Z" fill="#008000"/>
<path d="M316.84 221.80L323.54 228.80L316.84 235.80L310.14 228.80Z" fill="#008000"/>
<path d="M321.75 224.31L328.44 231.31L321.75 238.31L315.05 231.31Z" fill="#008000"/>
<path d="M326.65 226.40L333.35 233.40L326.65 240.40L319.95 233.40Z" fill="#008000"/>
<path d="M331.56 227.97L338.26 234.97L331.56 241.97L324.86 234.97Z" fill="#008000"/>
<path d="M336.47 228.95L343.17 235.95L336.47 242.95L329.77 235.95Z" fill="#008000"/>
<path d="M341.38 229.28L348.07 236.28L341.38 243.28L334.68 236.28Z" fill="#008000"/>
<path d="M346.28 229.15L352.98 236.15L346.28 243.15L339.58 236.15Z" fill="#008000"/>
<path d="M351.19 228.74L357.89 235.74L351.19 242.74L344.49 235.74Z" fill="#008000"/>
<path d="M356.10 228.04L362.80 235.04L356.10 242.04L349.40 235.04Z" fill="#008000"/>
<path d="M361.00 227.02L367.70 234.02L361.00 241.02L354.31 234.02Z" fill="#008000"/>
<path d="M365.91 225.65L372.61 232.65L365.91 239.65L359.21 232.65Z" fill="#008000"/>
<path d="M370.82 223.93L377.52 230.93L370.82 237.93L364.12 230.93Z" fill="#008000"/>
<path d="M375.73 221.84L382.43 228.84L375.73 235.84L369.03 228.84Z" fill="#008000"/>
<path d="M380.63 219.41L387.33 226.41L380.63 233.41L373.94 226.41Z" fill="#008000"/>
<path d="M385.54 216.74L392.24 223.74L385.54 230.74L378.84 223.74Z" fill="#008000"/>
<path d="M390.45 213.92L397.15 220.92L390.45 227.92L383.75 220.92Z" fill="#008000"/>
<path d="M395.36 211.04L402.06 218.04L395.36 225.04L388.66 218.04Z" fill="#008000"/>
<path d="M400.27 208.17L406.97 215.17L400.27 222.17L393.57 215.17Z" fill="#008000"/>
<path d="M405.17 205.39L411.87 212.39L405.17 219.39L398.47 212.39Z" fill="#008000"/>
<path d="M410.08 202.79L416.78 209.79L410.08 216.79L403.38 209.79Z" fill="#008000"/>
<path d="M414.99 200.44L421.69 207.44L414.99 214.44L408.29 207.44Z" fill="#008000"/>
<path d="M419.90 198.40L426.60 205.40L419.90 212.40L413.20 205.40Z" fill="#008000"/>
<path d="M424.80 196.75L431.50 203.75L424.80 210.75L418.10 203.75Z" fill="#008000"/>
<path d="M429.71 195.54L436.41 202.54L429.71 209.54L423.01 202.54Z" fill="#008000"/>
<path d="M434.62 194.79L441.32 201.79L434.62 208.79L427.92 201.79Z" fill="#008000"/>
<path d="M439.53 194.54L446.23 201.54L439.53 208.54L432.83 201.54Z" fill="#008000"/>
<path d="M444.43 194.81L451.13 201.81L444.43 208.81L437.73 201.81Z" fill="#008000"/>
<path d="M449.34 195.60L456.04 202.60L449.34 209.60L442.64 202.60Z" fill="#008000"/>
<path d="M454.25 196.89L460.95 203.89L454.25 210.89L447.55 203.89Z" fill="#008000"/>
<path d="M459.16 198.62L465.86 205.62L459.16 212.62L452.46 205.62Z" fill="#008000"/>
<path d="M464.06 200.73L470.76 207.73L464.06 214.73L457.36 207.73Z" fill="#008000"/>
<path d="M468.97 203.14L475.67 210.14L468.97 217.14L462.27 210.14Z" fill="#008000"/>
<path d="M473.88 205.76L480.58 212.76L473.88 219.76L467.18 212.76Z" fill="#008000"/>
<path d="M478.79 208.52L485.49 215.52L478.79 222.52L472.09 215.52Z" fill="#008000"/>
<path d="M483.69 211.31L490.39 218.31L483.69 225.31L476.99 218.31Z" fill="#008000"/>
<path d="M488.60 214.07L495.30 221.07L488.60 228.07L481.90 221.07Z" fill="#008000"/>
<path d="M493.51 216.90L500.21 223.90L493.51 230.90L486.81 223.90Z" fill="#008000"/>
<path d="M498.42 219.91L505.12 226.91L498.42 233.91L491.72 226.91Z" fill="#008000"/>
<path d="M503.32 222.99L510.02 229.99L503.32 236.99L496.62 229.99Z" fill="#008000"/>
<path d="M508.23 226.02L514.93 233.02L508.23 240.02L501.53 233.02Z" fill="#008000"/>
<path d="M513.14 228.89L519.84 235.89L513.14 242.89L506.44 235.89Z" fill="#008000"/>
<path d="M518.05 231.45L524.75 238.45L518.05 245.45L511.35 238.45Z" fill="#008000"/>
<path d="M522.95 233.59L529.65 240.59L522.95 247.59L516.25 240.59Z" fill="#008000"/>
<path d="M527.86 235.20L534.56 242.20L527.86 249.20L521.16 242.20Z" fill="#008000"/>
<path d="M532.77 236.20L539.47 243.20L532.77 250.20L526.07 243.20Z" fill="#008000"/>
<path d="M537.67 236.54L544.38 243.54L537.67 250.54L530.97 243.54Z" fill="#008000"/>
<path d="M542.58 236.33L549.28 243.33L542.58 250.33L535.88 243.33Z" fill="#008000"/>
<path d="M547.49 235.69L554.19 242.69L547.49 249.69L540.79 242.69Z" fill="#008000"/>
<path d="M552.40 234.66L559.10 241.66L552.40 248.66L545.70 241.66Z" fill="#008000"/>
<path d="M557.30 233.24L564.00 240.24L557.30 247.24L550.60 240.24Z" fill="#008000"/>
<path d="M562.21 231.48L568.91 238.48L562.21 245.48L555.51 238.48Z" fill="#008000"/>
<path d="M567.12 229.42L573.82 236.42L567.12 243.42L560.42 236.42Z" fill="#008000"/>
<path d="M572.03 227.10L578.73 234.10L572.03 241.10L565.33 234.10Z" fill="#008000"/>
<path d="M576.93 224.60L583.63 231.60L576.93 238.60L570.23 231.60Z" fill="#008000"/>
<path d="M581.84 221.96L588.54 228.96L581.84 235.96L575.14 228.96Z" fill="#008000"/>
<path d="M586.75 219.26L593.45 226.26L586.75 233.26L580.05 226.26Z" fill="#008000"/>
<path d="M591.66 216.45L598.36 223.45L591.66 230.45L584.96 223.45Z" fill="#008000"/>
<path d="M596.56 213.53L603.26 220.53L596.56 227.53L589.86 220.53Z" fill="#008000"/>
<path d="M601.47 210.63L608.17 217.63L601.47 224.63L594.77 217.63Z" fill="#008000"/>
<path d="M606.38 207.93L613.08 214.93L606.38 221.93L599.68 214.93Z" fill="#008000"/>
<path d="M611.29 205.58L617.99 212.58L611.29 219.58L604.59 212.58Z" fill="#008000"/>
<path d="M616.19 203.72L622.89 210.72L616.19 217.72L609.49 210.72Z" fill="#008000"/>
<path d="M621.10 202.30L627.80 209.30L621.10 216.30L614.40 209.30Z" fill="#008000"/>
<path d="M626.01 201.26L632.71 208.26L626.01 215.26L619.31 208.26Z" fill="#008000"/>
<path d="M630.92 200.63L637.62 207.63L630.92 214.63L624.22 207.63Z" fill="#008000"/>
<path d="M635.82 200.42L642.52 207.42L635.82 214.42L629.12 207.42Z" fill="#008000"/>
</g>
<g>
<polyline fill="none" stroke="#000080" stroke-width="0.8" points="154.89,207.42 159.80,207.39 164.70,207.32 169.61,207.21 174.52,207.05 179.43,206.86 184.33,206.64 189.24,206.39 194.15,206.13 199.06,205.86 203.96,205.59 208.87,205.33 213.78,205.08 218.69,204.86 223.59,204.67 228.50,204.51 233.41,204.40 238.32,204.33 243.22,204.31 248.13,204.60 253.04,205.42 257.95,206.57 262.86,207.77 267.76,208.75 272.67,209.27 277.58,209.49 282.49,210.48 287.39,212.00 292.30,213.52 297.21,214.50 302.12,214.71 307.02,215.09 311.93,215.85 316.84,216.87 321.75,218.02 326.65,219.14 331.56,220.07 336.47,220.68 341.38,220.90 346.28,220.83 351.19,220.65 356.10,220.36 361.00,220.03 365.91,219.70 370.82,219.42 375.73,219.24 380.63,219.17 385.54,219.17 390.45,219.17 395.36,219.02 400.27,218.61 405.17,218.05 410.08,217.48 414.99,217.07 419.90,216.92 424.80,216.72 429.71,216.23 434.62,215.74 439.53,215.54 444.43,215.95 449.34,216.92 454.25,217.90 459.16,218.31 464.06,218.53 468.97,219.13 473.88,219.95 478.79,220.77 483.69,221.37 488.60,221.59 493.51,221.70 498.42,222.04 503.32,222.55 508.23,223.20 513.14,223.92 518.05,224.64 522.95,225.29 527.86,225.81 532.77,226.14 537.67,226.26 542.58,226.21 547.49,226.07 552.40,225.86 557.30,225.60 562.21,225.31 567.12,225.01 572.03,224.75 576.93,224.54 581.84,224.40 586.75,224.35 591.66,224.26 596.56,223.98 601.47,223.54 606.38,222.98 611.29,222.37 616.19,221.75 621.10,221.20 626.01,220.76 630.92,220.48 635.82,220.38"/>
<path d="M147.89 207.42L158.89 200.92L158.89 213.92Z" fill="#000080"/>
<path d="M152.80 207.39L163.80 200.89L163.80 213.89Z" fill="#000080"/>
<path d="M157.70 207.32L168.70 200.82L168.70 213.82Z" fill="#000080"/>
<path d="M162.61 207.21L173.61 200.71L173.61 213.71Z" fill="#000080"/>
<path d="M167.52 207.05L178.52 200.55L178.52 213.55Z" fill="#000080"/>
<path d="M172.43 206.86L183.43 200.36L183.43 213.36Z" fill="#000080"/>
<path d="M177.33 206.64L188.33 200.14L188.33 213.14Z" fill="#000080"/>
<path d="M182.24 206.39L193.24 199.89L193.24 212.89Z" fill="#000080"/>
<path d="M187.15 206.13L198.15 199.63L198.15 212.63Z" fill="#000080"/>
<path d="M192.06 205.86L203.06 199.36L203.06 212.36Z" fill="#000080"/>
<path d="M196.96 205.59L207.96 199.09L207.96 212.09Z" fill="#000080"/>
<path d="M201.87 205.33L212.87 198.83L212.87 211.83Z" fill="#000080"/>
<path d="M206.78 205.08L217.78 198.58L217.78 211.58Z" fill="#000080"/>
<path d="M211.69 204.86L222.69 198.36L222.69 211.36Z" fill="#000080"/>
<path d="M216.59 204.67L227.59 198.17L227.59 211.17Z" fill="#000080"/>
<path d="M221.50 204.51L232.50 198.01L232.50 211.01Z" fill="#000080"/>
<path d="M226.41 204.40L237.41 197.90L237.41 210.90Z" fill="#000080"/>
<path d="M231.32 204.33L242.32 197.83L242.32 210.83Z" fill="#000080"/>
<path d="M236.22 204.31L247.22 197.81L247.22 210.81Z" fill="#000080"/>
<path d="M241.13 204.60L252.13 198.10L252.13 211.10Z" fill="#000080"/>
<path d="M246.04 205.42L257.04 198.92L257.04 211.92Z" fill="#000080"/>
<path d="M250.95 206.57L261.95 200.07L261.95 213.07Z" fill="#000080"/>
<path d="M255.86 207.77L266.86 201.27L266.86 214.27Z" fill="#000080"/>
<path d="M260.76 208.75L271.76 202.25L271.76 215.25Z" fill="#000080"/>
<path d="M265.67 209.27L276.67 202.77L276.67 215.77Z" fill="#000080"/>
<path d="M270.58 209.49L281.58 202.99L281.58 215.99Z" fill="#000080"/>
<path d="M275.49 210.48L286.49 203.98L286.49 216.98Z" fill="#000080"/>
<path d="M280.39 212.00L291.39 205.50L291.39 218.50Z" fill="#000080"/>
<path d="M285.30 213.52L296.30 207.02L296.30 220.02Z" fill="#000080"/>
<path d="M290.21 214.50L301.21 208.00L301.21 221.00Z" fill="#000080"/>
<path d="M295.12 214.71L306.12 208.21L306.12 221.21Z" fill="#000080"/>
<path d="M300.02 215.09L311.02 208.59L311.02 221.59Z" fill="#000080"/>
<path d="M304.93 215.85L315.93 209.35L315.93 222.35Z" fill="#000080"/>
<path d="M309.84 216.87L320.84 210.37L320.84 223.37Z" fill="#000080"/>
<path d="M314.75 218.02L325.75 211.52L325.75 224.52Z" fill="#000080"/>
<path d="M319.65 219.14L330.65 212.64L330.65 225.64Z" fill="#000080"/>
<path d="M324.56 220.07L335.56 213.57L335.56 226.57Z" fill="#000080"/>
<path d="M329.47 220.68L340.47 214.18L340.47 227.18Z" fill="#000080"/>
<path d="M334.38 220.90L345.38 214.40L345.38 227.40Z" fill="#000080"/>
<path d="M339.28 220.83L350.28 214.33L350.28 227.33Z" fill="#000080"/>
<path d="M344.19 220.65L355.19 214.15L355.19 227.15Z" fill="#000080"/>
<path d="M349.10 220.36L360.10 213.86L360.10 226.86Z" fill="#000080"/>
<path d="M354.00 220.03L365.00 213.53L365.00 226.53Z" fill="#000080"/>
<path d="M358.91 219.70L369.91 213.20L369.91 226.20Z" fill="#000080"/>
<path d="M363.82 219.42L374.82 212.92L374.82 225.92Z" fill="#000080"/>
<path d="M368.73 219.24L379.73 212.74L379.73 225.74Z" fill="#000080"/>
<path d="M373.63 219.17L384.63 212.67L384.63 225.67Z" fill="#000080"/>
<path d="M378.54 219.17L389.54 212.67L389.54 225.67Z" fill="#000080"/>
<path d="M383.45 219.17L394.45 212.67L394.45 225.67Z" fill="#000080"/>
<path d="M388.36 219.02L399.36 212.52L399.36 225.52Z" fill="#000080"/>
<path d="M393.27 218.61L404.27 212.11L404.27 225.11Z" fill="#000080"/>
<path d="M398.17 218.05L409.17 211.55L409.17 224.55Z" fill="#000080"/>
<path d="M403.08 217.48L414.08 210.98L414.08 223.98Z" fill="#000080"/>
<path d="M407.99 217.07L418.99 210.57L418.99 223.57Z" fill="#000080"/>
<path d="M412.90 216.92L423.90 210.42L423.90 223.42Z" fill="#000080"/>
<path d="M417.80 216.72L428.80 210.22L428.80 223.22Z" fill="#000080"/>
<path d="M422.71 216.23L433.71 209.73L433.71 222.73Z" fill="#000080"/>
<path d="M427.62 215.74L438.62 209.24L438.62 222.24Z" fill="#000080"/>
<path d="M432.53 215.54L443.53 209.04L443.53 222.04Z" fill="#000080"/>
<path d="M437.43 215.95L448.43 209.45L448.43 222.45Z" fill="#000080"/>
<path d="M442.34 216.92L453.34 210.42L453.34 223.42Z" fill="#000080"/>
<path d="M447.25 217.90L458.25 211.40L458.25 224.40Z" fill="#000080"/>
<path d="M452.16 218.31L463.16 211.81L463.16 224.81Z" fill="#000080"/>
<path d="M457.06 218.53L468.06 212.03L468.06 225.03Z" fill="#000080"/>
<path d="M461.97 219.13L472.97 212.63L472.97 225.63Z" fill="#000080"/>
<path d="M466.88 219.95L477.88 213.45L477.88 226.45Z" fill="#000080"/>
<path d="M471.79 220.77L482.79 214.27L482.79 227.27Z" fill="#000080"/>
<path d="M476.69 221.37L487.69 214.87L487.69 227.87Z" fill="#000080"/>
<path d="M481.60 221.59L492.60 215.09L492.60 228.09Z" fill="#000080"/>
<path d="M486.51 221.70L497.51 215.20L497.51 228.20Z" fill="#000080"/>
<path d="M491.42 222.04L502.42 215.54L502.42 228.54Z" fill="#000080"/>
<path d="M496.32 222.55L507.32 216.05L507.32 229.05Z" fill="#000080"/>
<path d="M501.23 223.20L512.23 216.70L512.23 229.70Z" fill="#000080"/>
<path d="M506.14 223.92L517.14 217.42L517.14 230.42Z" fill="#000080"/>
<path d="M511.05 224.64L522.05 218.14L522.05 231.14Z" fill="#000080"/>
<path d="M515.95 225.29L526.95 218.79L526.95 231.79Z" fill="#000080"/>
<path d="M520.86 225.81L531.86 219.31L531.86 232.31Z" fill="#000080"/>
<path d="M525.77 226.14L536.77 219.64L536.77 232.64Z" fill="#000080"/>
<path d="M530.67 226.26L541.67 219.76L541.67 232.76Z" fill="#000080"/>
<path d="M535.58 226.21L546.58 219.71L546.58 232.71Z" fill="#000080"/>
<path d="M540.49 226.07L551.49 219.57L551.49 232.57Z" fill="#000080"/>
<path d="M545.40 225.86L556.40 219.36L556.40 232.36Z" fill="#000080"/>
<path d="M550.30 225.60L561.30 219.10L561.30 232.10Z" fill="#000080"/>
<path d="M555.21 225.31L566.21 218.81L566.21 231.81Z" fill="#000080"/>
<path d="M560.12 225.01L571.12 218.51L571.12 231.51Z" fill="#000080"/>
<path d="M565.03 224.75L576.03 218.25L576.03 231.25Z" fill="#000080"/>
<path d="M569.93 224.54L580.93 218.04L580.93 231.04Z" fill="#000080"/>
<path d="M574.84 224.40L585.84 217.90L585.84 230.90Z" fill="#000080"/>
<path d="M579.75 224.35L590.75 217.85L590.75 230.85Z" fill="#000080"/>
<path d="M584.66 224.26L595.66 217.76L595.66 230.76Z" fill="#000080"/>
<path d="M589.56 223.98L600.56 217.48L600.56 230.48Z" fill="#000080"/>
<path d="M594.47 223.54L605.47 217.04L605.47 230.04Z" fill="#000080"/>
<path d="M599.38 222.98L610.38 216.48L610.38 229.48Z" fill="#000080"/>
<path d="M604.29 222.37L615.29 215.87L615.29 228.87Z" fill="#000080"/>
<path d="M609.19 221.75L620.19 215.25L620.19 228.25Z" fill="#000080"/>
<path d="M614.10 221.20L625.10 214.70L625.10 227.70Z" fill="#000080"/>
<path d="M619.01 220.76L630.01 214.26L630.01 227.26Z" fill="#000080"/>
<path d="M623.92 220.48L634.92 213.98L634.92 226.98Z" fill="#000080"/>
<path d="M628.82 220.38L639.82 213.88L639.82 226.88Z" fill="#000080"/>
</g>
<g stroke="#000" stroke-width="1.6" fill="none" stroke-linecap="butt">
<line x1="91.0" y1="0.7" x2="685.9" y2="0.7"/>
<line x1="91.0" y1="432.8" x2="685.9" y2="432.8"/>
<line x1="96.0" y1="0" x2="96.0" y2="437.8"/>
<line x1="684.3" y1="0" x2="684.3" y2="432.8"/>
<line x1="145.07" y1="432.8" x2="145.07" y2="442.0"/>
<line x1="145.07" y1="0.7" x2="145.07" y2="9.899999999999999"/>
<line x1="194.15" y1="432.8" x2="194.15" y2="437.8"/>
<line x1="194.15" y1="0.7" x2="194.15" y2="5.7"/>
<line x1="243.22" y1="432.8" x2="243.22" y2="442.0"/>
<line x1="243.22" y1="0.7" x2="243.22" y2="9.899999999999999"/>
<line x1="292.30" y1="432.8" x2="292.30" y2="437.8"/>
<line x1="292.30" y1="0.7" x2="292.30" y2="5.7"/>
<line x1="341.38" y1="432.8" x2="341.38" y2="442.0"/>
<line x1="341.38" y1="0.7" x2="341.38" y2="9.899999999999999"/>
<line x1="390.45" y1="432.8" x2="390.45" y2="437.8"/>
<line x1="390.45" y1="0.7" x2="390.45" y2="5.7"/>
<line x1="439.53" y1="432.8" x2="439.53" y2="442.0"/>
<line x1="439.53" y1="0.7" x2="439.53" y2="9.899999999999999"/>
<line x1="488.60" y1="432.8" x2="488.60" y2="437.8"/>
<line x1="488.60" y1="0.7" x2="488.60" y2="5.7"/>
<line x1="537.67" y1="432.8" x2="537.67" y2="442.0"/>
<line x1="537.67" y1="0.7" x2="537.67" y2="9.899999999999999"/>
<line x1="586.75" y1="432.8" x2="586.75" y2="437.8"/>
<line x1="586.75" y1="0.7" x2="586.75" y2="5.7"/>
<line x1="635.82" y1="432.8" x2="635.82" y2="442.0"/>
<line x1="635.82" y1="0.7" x2="635.82" y2="9.899999999999999"/>
<line x1="86.8" y1="389.59" x2="96.0" y2="389.59"/>
<line x1="675.0999999999999" y1="389.59" x2="684.3" y2="389.59"/>
<line x1="91.0" y1="346.38" x2="96.0" y2="346.38"/>
<line x1="679.3" y1="346.38" x2="684.3" y2="346.38"/>
<line x1="86.8" y1="303.17" x2="96.0" y2="303.17"/>
<line x1="675.0999999999999" y1="303.17" x2="684.3" y2="303.17"/>
<line x1="91.0" y1="259.96" x2="96.0" y2="259.96"/>
<line x1="679.3" y1="259.96" x2="684.3" y2="259.96"/>
<line x1="86.8" y1="216.75" x2="96.0" y2="216.75"/>
<line x1="675.0999999999999" y1="216.75" x2="684.3" y2="216.75"/>
<line x1="91.0" y1="173.54" x2="96.0" y2="173.54"/>
<line x1="679.3" y1="173.54" x2="684.3" y2="173.54"/>
<line x1="86.8" y1="130.33" x2="96.0" y2="130.33"/>
<line x1="675.0999999999999" y1="130.33" x2="684.3" y2="130.33"/>
<line x1="91.0" y1="87.12" x2="96.0" y2="87.12"/>
<line x1="679.3" y1="87.12" x2="684.3" y2="87.12"/>
<line x1="86.8" y1="43.91" x2="96.0" y2="43.91"/>
<line x1="675.0999999999999" y1="43.91" x2="684.3" y2="43.91"/>
</g>
<text x="145.07" y="462.5" font-size="18.6" text-anchor="middle">-250</text>
<text x="243.22" y="462.5" font-size="18.6" text-anchor="middle">-200</text>
<text x="341.38" y="462.5" font-size="18.6" text-anchor="middle">-150</text>
<text x="439.53" y="462.5" font-size="18.6" text-anchor="middle">-100</text>
<text x="537.67" y="462.5" font-size="18.6" text-anchor="middle">-50</text>
<text x="635.82" y="462.5" font-size="18.6" text-anchor="middle">0</text>
<text x="81.1" y="394.79" font-size="18.6" text-anchor="end">-1000</text>
<text x="81.1" y="308.37" font-size="18.6" text-anchor="end">-500</text>
<text x="81.1" y="221.95" font-size="18.6" text-anchor="end">0</text>
<text x="81.1" y="135.53" font-size="18.6" text-anchor="end">500</text>
<text x="81.1" y="49.11" font-size="18.6" text-anchor="end">1000</text>
<text transform="translate(358.7,498.0) scale(1.045,1)" font-size="22">x [µm]</text>
<text transform="translate(19.7,294.0) rotate(-90) scale(0.98,1)" font-size="23">U</text>
<text transform="translate(27.4,278.0) rotate(-90) scale(1.0,1)" font-size="14.3">LPS</text>
<text transform="translate(19.2,251.3) rotate(-90) scale(1.05,1)" font-size="22.6">/</text>
<text transform="translate(19.2,244.85) rotate(-90) scale(1.07,1)" font-size="22.7">P</text>
<text transform="translate(27.4,229.0) rotate(-90) scale(1.0,1)" font-size="14.3">L</text>
<text transform="translate(19.2,215.3) rotate(-90) scale(1.064,1)" font-size="22">[mV/W]</text>
<rect x="512.6" y="244.9" width="158.6" height="174.2" fill="#fff" stroke="#111" stroke-width="0.9"/>
<line x1="526.4" y1="263.50" x2="578.9" y2="263.50" stroke="#000000" stroke-width="0.8"/>
<rect x="547.90" y="259.00" width="9" height="9" fill="#000000"/>
<text x="585.0" y="271.40" font-size="23">0.2 nW</text>
<line x1="526.4" y1="292.10" x2="578.9" y2="292.10" stroke="#ff0000" stroke-width="0.8"/>
<circle cx="552.40" cy="292.10" r="5.1" fill="#ff0000"/>
<text x="585.0" y="300.00" font-size="23">2 nW</text>
<line x1="526.4" y1="320.70" x2="578.9" y2="320.70" stroke="#0000ff" stroke-width="0.8"/>
<path d="M552.40 314.10L559.10 325.50L545.70 325.50Z" fill="#0000ff"/>
<text x="585.0" y="328.60" font-size="23">20 nW</text>
<line x1="526.4" y1="349.30" x2="578.9" y2="349.30" stroke="#ff00ff" stroke-width="0.8"/>
<path d="M552.40 356.80L559.10 345.40L545.70 345.40Z" fill="#ff00ff"/>
<text x="585.0" y="357.20" font-size="23">200 nW</text>
<line x1="526.4" y1="377.90" x2="578.9" y2="377.90" stroke="#008000" stroke-width="0.8"/>
<path d="M552.40 370.90L559.10 377.90L552.40 384.90L545.70 377.90Z" fill="#008000"/>
<text x="585.0" y="385.80" font-size="23">500 nW</text>
<line x1="526.4" y1="406.50" x2="578.9" y2="406.50" stroke="#000080" stroke-width="0.8"/>
<path d="M545.40 406.50L556.40 400.00L556.40 413.00Z" fill="#000080"/>
<text x="585.0" y="414.40" font-size="23">2 µW</text>
</svg></body></html>
